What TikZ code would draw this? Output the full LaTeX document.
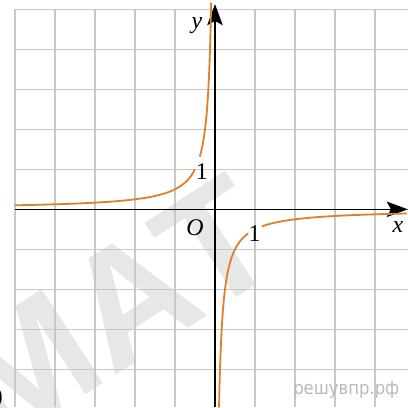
\documentclass[tikz,border=0pt]{standalone}
\usepackage{fontspec}
\setmainfont{Liberation Serif}
\newfontfamily\wmfont{Liberation Sans}
\newfontfamily\sitefont[FakeStretch=0.9]{DejaVu Sans}
\usetikzlibrary{arrows.meta}
\definecolor{curveorange}{RGB}{221,128,48}
\definecolor{gridgray}{RGB}{200,200,200}
\definecolor{wmgray}{RGB}{231,231,231}
\definecolor{sitegray}{RGB}{185,185,185}
\begin{document}
\begin{tikzpicture}[
  gridline/.style={draw=gridgray, line width=1.1pt},
  axisline/.style={draw=black, line width=0.9pt, -{Stealth[length=15pt,width=11pt,inset=3pt]}},
  graph/.style={draw=curveorange, line width=1.3pt, smooth},
  lbl/.style={font=\fontsize{17}{17}\selectfont, inner sep=0pt},
]
\useasboundingbox (-5.375,-4.9425) rectangle (4.825,5.2325);
% watermark
\node[rotate=33, anchor=base east, text=wmgray, inner sep=0pt,
      font=\wmfont\bfseries\fontsize{116}{116}\selectfont] (wm) at (1.84,-1.36) {МАТ};
% grid
\foreach \i in {-5,...,4} \draw[gridline] (\i,-4.95) -- (\i,5);
\foreach \j in {-4,...,5} \draw[gridline] (-5,\j) -- (4.83,\j);
% axes
\coordinate (xstart) at (-5,0);
\coordinate (xend) at (4.82,0);
\coordinate (ystart) at (0,-4.95);
\coordinate (yend) at (0,5.13);
\draw[axisline] (xstart) -- (xend);
\draw[axisline] (ystart) -- (yend);
% curve y = -1/(2x)
\draw[graph] plot[domain=-5:-0.5, samples=60, variable=\t] (\t,{-0.5/\t});
\draw[graph] plot[domain=-0.38:-0.096, samples=120, variable=\t] (\t,{-0.5/\t});
\draw[graph] plot[domain=0.101:0.83, samples=120, variable=\t] (\t,{-0.5/\t});
\draw[graph] plot[domain=1.17:4.8, samples=60, variable=\t] (\t,{-0.5/\t});
% labels
\node[lbl] (ylab) at (-0.45,4.6) {\itshape y};
\node[lbl] (xlab) at (4.575,-0.45) {\itshape x};
\node[lbl] (olab) at (-0.5,-0.47) {\itshape O};
\node[lbl] (one-y) at (-0.33,0.93) {1};
\node[lbl] (one-x) at (0.99,-0.6) {1};
\node[lbl, anchor=east] (edge) at (-5.3,-4.72) {)};
\node[anchor=base west, inner sep=0pt, text=sitegray, font=\sitefont\fontsize{13}{13}\selectfont] (site) at (1.95,-4.64) {решувпр.рф};
\end{tikzpicture}
\end{document}
